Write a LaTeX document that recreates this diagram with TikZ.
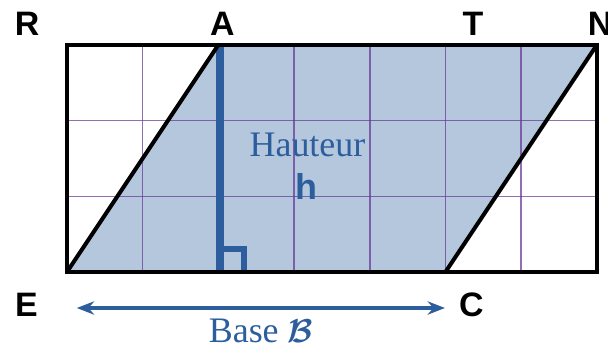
\documentclass[tikz,border=0pt]{standalone}
\usepackage{amsmath}
\usepackage{amssymb}
\usepackage{fontspec}
\setmainfont{Liberation Serif}
\newfontfamily\lblfont{Liberation Sans}
\usepackage{tikz}
\usetikzlibrary{arrows.meta}

\definecolor{hblue}{RGB}{44,94,158}
\definecolor{pfill}{RGB}{181,199,221}
\definecolor{gridpurple}{RGB}{100,50,150}

\begin{document}
\begin{tikzpicture}[x=2cm, y=2cm,
    vertex/.style={font=\lblfont\bfseries\fontsize{25.5}{28}\selectfont, inner sep=0pt, anchor=base},
    bluetext/.style={text=hblue, inner sep=0pt, anchor=base, font=\fontsize{27}{30}\selectfont},
    gridline/.style={draw=gridpurple, line width=1.1pt, opacity=0.7},
    side/.style={draw=black, line width=3pt, line join=miter}]
  \useasboundingbox (-0.885,-1.004) rectangle (7.147,3.593);
  % corners
  \coordinate (E) at (0,0);
  \coordinate (A) at (2,3);
  \coordinate (N) at (7,3);
  \coordinate (C) at (5,0);
  \coordinate (R) at (0,3);
  \coordinate (hA) at (2.02,3);
  \coordinate (hH) at (2.02,0);
  \coordinate (q1) at (2.02,0.30);
  \coordinate (q2) at (2.34,0.30);
  \coordinate (q3) at (2.34,0);
  \coordinate (b1) at (0.13,-0.476);
  \coordinate (b2) at (4.993,-0.476);

  \fill[pfill] (E) -- (A) -- (N) -- (C) -- cycle;
  \foreach \i in {1,...,6} \draw[gridline] (\i,0) -- (\i,3);
  \foreach \j in {1,2} \draw[gridline] (0,\j) -- (7,\j);
  \draw[hblue, line width=6pt] (hA) -- (hH);
  \draw[hblue, line width=4.8pt] (q1) -- (q2) -- (q3);
  \draw[side] (E) -- (A);
  \draw[side] (C) -- (N);
  \draw[side] (R) rectangle (7,0);

  \node[vertex] (lR) at (-0.528,3.118) {R};
  \node[vertex] (lA) at (2.054,3.118) {A};
  \node[vertex] (lT) at (5.363,3.118) {T};
  \node[vertex, anchor=base west] (lN) at (6.876,3.118) {N};
  \node[vertex] (lE) at (-0.535,-0.594) {E};
  \node[vertex] (lC) at (5.343,-0.594) {C};

  \node[bluetext] (haut) at (3.177,1.523) {Hauteur};
  \node[bluetext, font=\lblfont\bfseries\fontsize{27}{30}\selectfont] (h) at (3.170,0.951) {h};
  \draw[hblue, line width=3pt, {Stealth[length=13pt, width=10pt]}-{Stealth[length=13pt, width=10pt]}] (b1) -- (b2);
  \node[bluetext] (base) at (2.563,-0.935) {Base $\boldsymbol{\mathcal{B}}$};
\end{tikzpicture}
\end{document}
